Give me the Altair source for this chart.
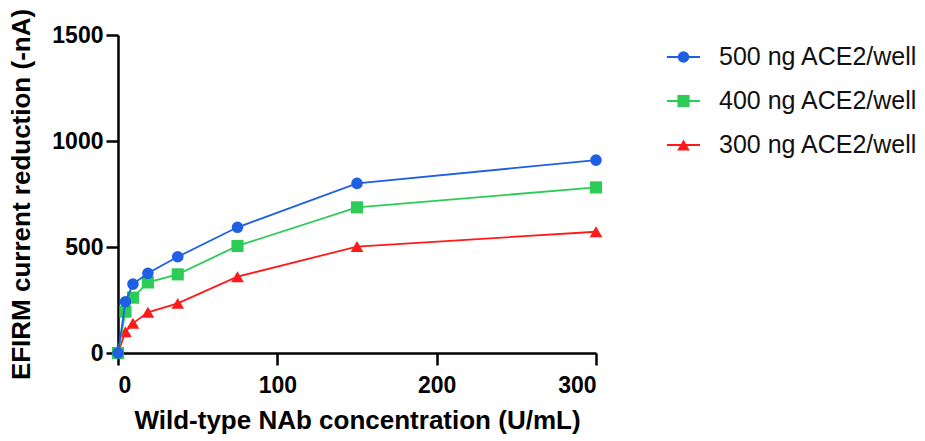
import altair as alt
import pandas as pd

# ---- data ----
concentration = [0, 4.6875, 9.375, 18.75, 37.5, 75, 150, 300]
series_names = ["500 ng ACE2/well", "400 ng ACE2/well", "300 ng ACE2/well"]
values_500 = [0, 242, 325, 376, 454, 593, 800, 910]
values_400 = [0, 195, 261, 333, 371, 505, 687, 781]
values_300 = [0, 100, 140, 192, 234, 360, 502, 572]
x_ticks = [0, 100, 200, 300]
y_ticks = [0, 500, 1000, 1500]

colors = ["#1f5fe3", "#2dcc57", "#ff1a1a"]
shapes = ["circle", "square", "triangle-up"]
sizes = [135, 160, 145]

FONT = "Liberation Sans"

series_values = {series_names[0]: values_500,
                 series_names[1]: values_400,
                 series_names[2]: values_300}

rows = []
for name in series_names:
    for c, v in zip(concentration, series_values[name]):
        rows.append({"series": name, "conc": c, "value": v})
df = pd.DataFrame(rows)

color_scale = alt.Scale(domain=series_names, range=colors)
shape_scale = alt.Scale(domain=series_names, range=shapes)
size_scale = alt.Scale(domain=series_names, range=sizes)

x_enc = alt.X("conc:Q", scale=alt.Scale(domain=[0, 300], nice=False),
              axis=alt.Axis(values=x_ticks, format="d",
                            title="Wild-type NAb concentration (U/mL)",
                            labelPadding=9, titlePadding=10))
y_enc = alt.Y("value:Q", scale=alt.Scale(domain=[0, 1500], nice=False),
              axis=alt.Axis(values=y_ticks, format="d",
                            title="EFIRM current reduction (-nA)",
                            labelPadding=3, titlePadding=17))

layers = []
# draw red first, blue last (blue on top)
for name in reversed(series_names):
    base = alt.Chart(df).transform_filter(alt.datum.series == name)
    line = base.mark_line(strokeWidth=1.8).encode(
        x=x_enc, y=y_enc,
        color=alt.Color("series:N", scale=color_scale, legend=None))
    pts = base.mark_point(filled=True, opacity=1).encode(
        x=x_enc, y=y_enc,
        color=alt.Color("series:N", scale=color_scale, legend=None),
        shape=alt.Shape("series:N", scale=shape_scale, legend=None),
        size=alt.Size("series:N", scale=size_scale, legend=None))
    layers += [line, pts]

main = alt.layer(*layers).properties(width=478, height=318)

# ---- legend panel ----
leg_df = pd.DataFrame({"series": series_names})
leg_base = alt.Chart(leg_df).transform_calculate(x0="0", x1="1", xm="0.5")
leg_y = alt.Y("series:N", sort=series_names, axis=None,
              scale=alt.Scale(domain=series_names))
leg_rule = leg_base.mark_rule(strokeWidth=1.8).encode(
    x=alt.X("x0:Q", scale=alt.Scale(domain=[0, 1]), axis=None),
    x2="x1:Q", y=leg_y,
    color=alt.Color("series:N", scale=color_scale, legend=None))
leg_pts = leg_base.mark_point(filled=True, opacity=1).encode(
    x=alt.X("xm:Q", scale=alt.Scale(domain=[0, 1]), axis=None), y=leg_y,
    color=alt.Color("series:N", scale=color_scale, legend=None),
    shape=alt.Shape("series:N", scale=shape_scale, legend=None),
    size=alt.Size("series:N", scale=size_scale, legend=None))
leg_txt = leg_base.mark_text(align="left", baseline="middle", dx=19, fontSize=25,
                             font=FONT, color="#111111").encode(
    x=alt.X("x1:Q", scale=alt.Scale(domain=[0, 1]), axis=None), y=leg_y,
    text="series:N")
legend = alt.layer(leg_rule, leg_pts, leg_txt).properties(width=33, height=132)

chart = alt.hconcat(main, legend, spacing=71, bounds="flush").properties(
    padding={"left": 8, "top": 8, "right": 2, "bottom": 2}
).configure_view(stroke=None).configure_axis(
    grid=False,
    domainColor="black", domainWidth=2.5,
    tickColor="black", tickWidth=2.5, tickSize=12,
    labelFont=FONT, labelFontWeight="bold", labelFontSize=23, labelColor="black",
    titleFont=FONT, titleFontWeight="bold", titleFontSize=26, titleColor="black",
)

chart.save("out.html", embed_options={"renderer": "svg", "actions": False})
